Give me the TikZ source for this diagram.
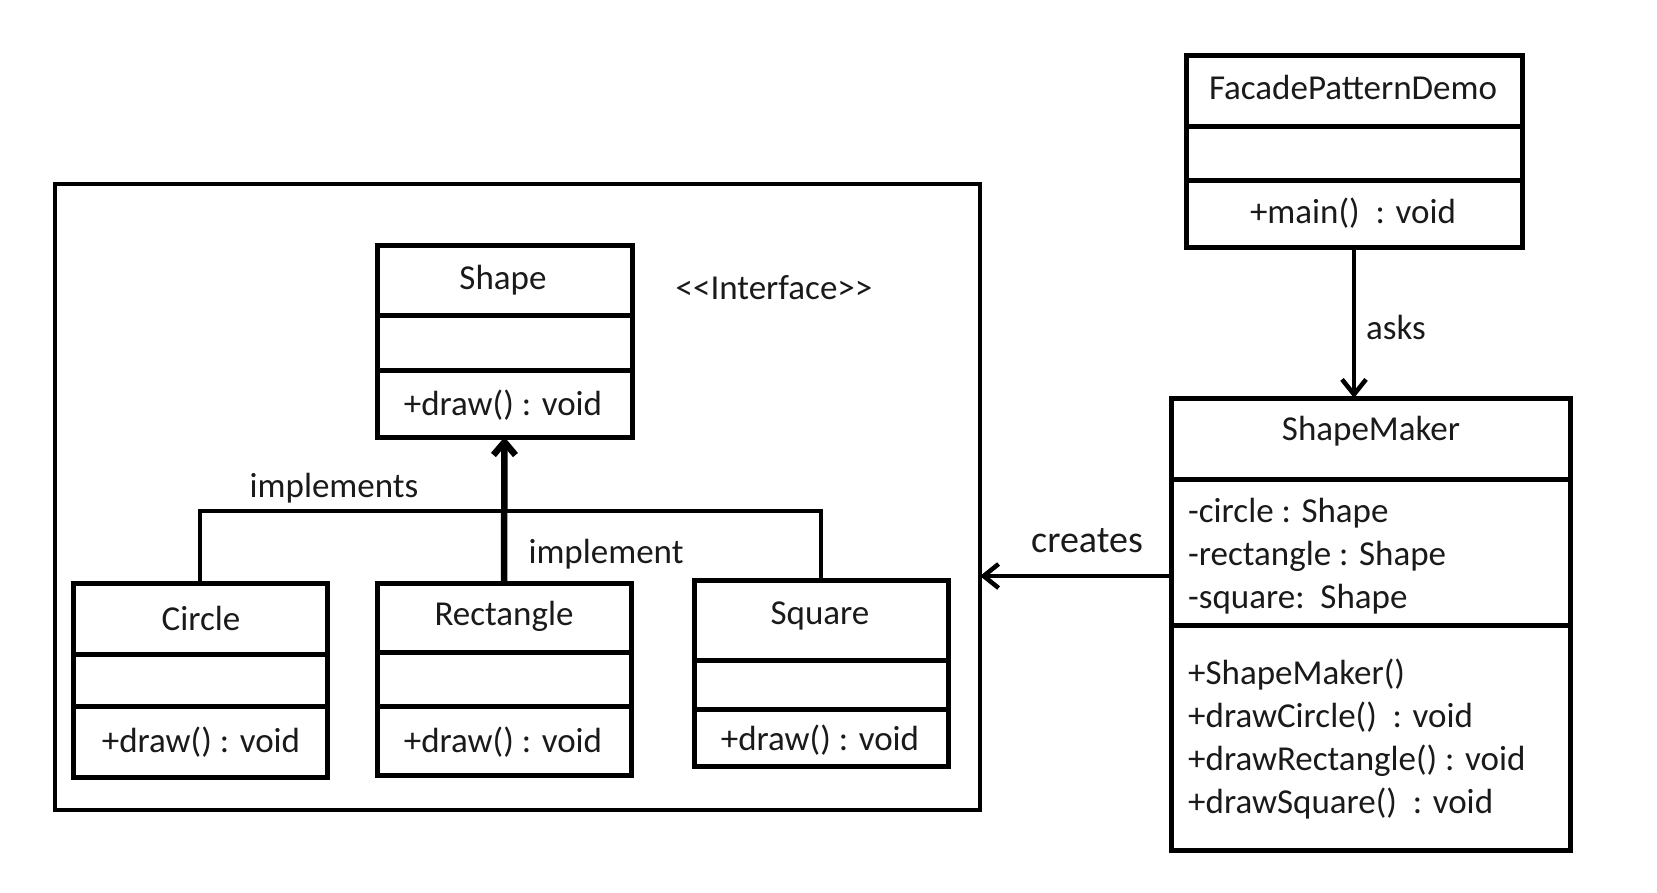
\documentclass[tikz,border=0pt]{standalone}
\usepackage{fontspec}
\setmainfont{Carlito}
\usetikzlibrary{arrows.meta}
\definecolor{ink}{HTML}{1A1A1A}
\tikzset{
  box/.style={draw=black, line width=5pt, inner sep=0pt, outer sep=0pt, fill=white},
  pkgbox/.style={draw=black, line width=4.5pt, inner sep=0pt, outer sep=0pt},
  div/.style={draw=black, line width=5pt},
  txt/.style={inner sep=0pt, text=ink, font=\fontsize{35}{43}\selectfont},
  ltxt/.style={txt, anchor=west, align=left},
  conn/.style={draw=black, line width=4.5pt},
  arr/.style={conn, -{Straight Barb[length=15pt,width=24pt]}},
  implarr/.style={draw=black, line width=6.5pt, -{Straight Barb[length=13pt,width=22pt]}},
}
\begin{document}
\begin{tikzpicture}[x=1pt,y=-1pt]
\useasboundingbox (0,0) rectangle (1657,892);
% package frame
\node[pkgbox, minimum width=925pt, minimum height=626pt] (pkg) at (517.5,497) {};
% Shape interface
\node[box, minimum width=255pt, minimum height=192pt] (shape) at (504.5,341) {};
\draw[div] (377,315) -- (632,315);
\draw[div] (377,370) -- (632,370);
\node[txt] (shapet) at (503,280) {Shape};
\node[txt] (shapeo) at (503,405) {+draw() : void};
\node[txt] (iface) at (774,288) {<\kern0pt<Interface>\kern0pt>};
% Circle
\node[box, minimum width=254pt, minimum height=194pt] (circle) at (200,680) {};
\draw[div] (73,654) -- (327,654);
\draw[div] (73,706) -- (327,706);
\node[txt] (circlet) at (201,618) {Circle};
\node[txt] (circleo) at (201,742) {+draw() : void};
% Rectangle
\node[box, minimum width=254pt, minimum height=192pt] (rect) at (504,679) {};
\draw[div] (377,652) -- (631,652);
\draw[div] (377,706) -- (631,706);
\node[txt] (rectt) at (504,616) {Rectangle};
\node[txt] (recto) at (503,742) {+draw() : void};
% Square
\node[box, minimum width=254pt, minimum height=186pt] (square) at (821,673) {};
\draw[div] (694,660) -- (948,660);
\draw[div] (694,709) -- (948,709);
\node[txt] (squaret) at (820,616) {Square};
\node[txt] (squareo) at (820,740) {+draw() : void};
% FacadePatternDemo
\node[box, minimum width=336pt, minimum height=192pt] (fpd) at (1354,151) {};
\draw[div] (1186,126) -- (1522,126);
\draw[div] (1186,180) -- (1522,180);
\node[txt] (fpdt) at (1353,87) {FacadePatternDemo};
\node[txt] (fpdo) at (1353,213) {+main()\ \ : void};
% ShapeMaker
\node[box, minimum width=399pt, minimum height=452pt] (maker) at (1370.5,624) {};
\draw[div] (1171,479) -- (1570,479);
\draw[div] (1171,625) -- (1570,625);
\node[txt] (makert) at (1371,431) {ShapeMaker};
\node[ltxt] (makera) at (1188,556) {-circle : Shape\\-rectangle : Shape\\-square:\ \ Shape};
\node[ltxt] (makero) at (1188,739) {+ShapeMaker()\\+drawCircle()\ \ : void\\+drawRectangle() : void\\+drawSquare()\ \ : void};
% connectors
\coordinate (bar) at (504,511);
\draw[conn] (circle.north) |- (bar) -| (square.north);
\draw[implarr] (rect.north) -- (shape.south);
\node[txt] (impls) at (334,488) {implements};
\node[txt] (impl) at (606,554) {implement};
\draw[arr] (fpd.south) -- (fpd.south |- maker.north);
\node[txt] (asks) at (1396,327) {asks};
\coordinate (cstart) at ([yshift=48pt]maker.west);
\draw[arr] (cstart) -- (cstart -| pkg.east);
\node[txt, font=\fontsize{38}{43}\selectfont] (creates) at (1087,541) {creates};
\end{tikzpicture}
\end{document}
